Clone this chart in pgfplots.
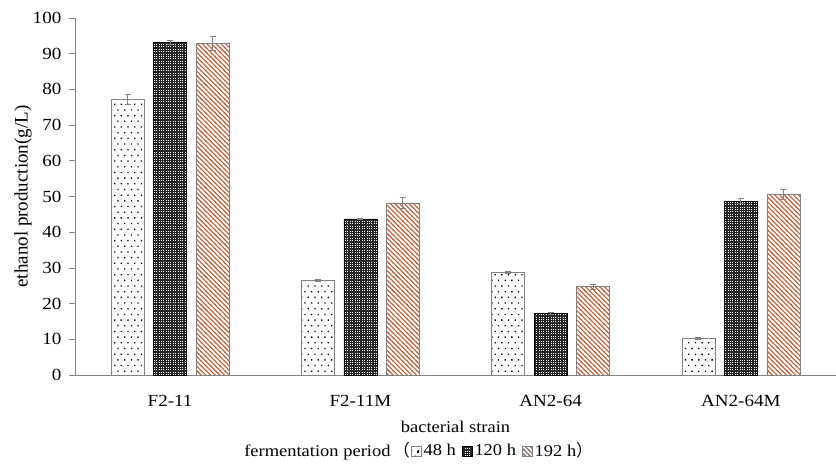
\documentclass[border=0pt]{standalone}
\usepackage{fontspec}
\setmainfont{Liberation Serif}[FakeStretch=1.12]
\newfontfamily\ylfont{Liberation Serif}
\newfontfamily\cjk{Noto Sans CJK SC}
\usepackage{pgfplots}
\pgfplotsset{compat=1.18}
\usetikzlibrary{patterns}
\definecolor{hatchc}{RGB}{190,95,55}
\definecolor{axgray}{RGB}{130,130,130}
\pgfdeclarepatternformonly{sparsedots}{\pgfqpoint{-1pt}{-1pt}}{\pgfqpoint{7.7pt}{12.4pt}}{\pgfqpoint{6.7pt}{11.4pt}}{%
  \pgfpathrectangle{\pgfqpoint{0.6pt}{0.6pt}}{\pgfqpoint{1.3pt}{1.3pt}}%
  \pgfpathrectangle{\pgfqpoint{3.95pt}{6.3pt}}{\pgfqpoint{1.3pt}{1.3pt}}%
  \pgfusepath{fill}}
\pgfdeclarepatternformonly{whitegrid}{\pgfqpoint{-0.5pt}{-0.5pt}}{\pgfqpoint{2.8pt}{2.8pt}}{\pgfqpoint{2.4pt}{2.4pt}}{%
  \pgfpathrectangle{\pgfqpoint{0.7pt}{0.7pt}}{\pgfqpoint{1.0pt}{1.0pt}}%
  \pgfusepath{fill}}
\pgfdeclarepatternformonly{nwhatch}{\pgfqpoint{-1pt}{-1pt}}{\pgfqpoint{5.7pt}{5.7pt}}{\pgfqpoint{4.7pt}{4.7pt}}{%
  \pgfsetlinewidth{1.1pt}%
  \pgfpathmoveto{\pgfqpoint{-0.5pt}{5.2pt}}%
  \pgfpathlineto{\pgfqpoint{5.2pt}{-0.5pt}}%
  \pgfusepath{stroke}}
\begin{document}
\fontsize{16.5bp}{19bp}\selectfont
\begin{tikzpicture}
\begin{axis}[
  name=ax,
  scale only axis,
  width=761bp, height=357bp,
  xmin=-0.5, xmax=3.5,
  ymin=0, ymax=100,
  ytick={0,10,...,100},
  xtick={0,1,2,3},
  xticklabels={F2-11,F2-11M,AN2-64,AN2-64M},
  axis x line*=bottom,
  axis y line*=left,
  axis line style={axgray, line width=0.8pt},
  x axis line style={-},
  y axis line style={-},
  ytick style={axgray, line width=0.8pt},
  xtick style={draw=none},
  tick align=outside,
  major tick length=6bp,
  every tick label/.append style={font=\fontsize{17bp}{19bp}\selectfont},
  /pgf/number format/assume math mode=true,
  yticklabel style={xshift=-2bp},
  xticklabel style={yshift=-9bp},
  ylabel={\ylfont\fontsize{19bp}{22bp}\selectfont ethanol production(g/L)},
  ylabel style={at={(axis description cs:-0.072,0.5)}, anchor=center, yshift=-3bp},
  xlabel={bacterial strain},
  xlabel style={font=\fontsize{16.5bp}{19bp}\selectfont, yshift=-3bp},
  ybar=9.5bp,
  bar width=33bp,
  clip=false,
  legend columns=-1,
  legend style={draw=none, fill=none, at={(rel axis cs:0.5,0)}, anchor=center, xshift=-37bp, yshift=-76bp,
    font=\fontsize{16.5bp}{19bp}\selectfont, inner sep=0pt,
    /tikz/every even column/.append style={column sep=0pt}},
  legend cell align=left,
  error bars/y dir=both,
  error bars/y explicit,
  error bars/error bar style={axgray, line width=0.8pt},
  error bars/error mark options={rotate=90, mark size=3bp, axgray, line width=0.8pt},
]
\addlegendimage{empty legend}
\addlegendentry{fermentation period\kern3bp{\cjk （}\kern-1bp}
\addplot[draw=axgray, line width=0.7pt, fill=white, postaction={pattern=sparsedots, pattern color=black},
  legend image code/.code={\draw[axgray, line width=0.6pt, fill=white] (0bp,-5bp) rectangle (10bp,5bp); \fill[black] (6bp,-1.5bp) rectangle (7.3bp,-0.2bp);}]
  coordinates {(0,77.2) +- (0,1.5) (1,26.5) +- (0,0.3) (2,28.7) +- (0,0.3) (3,10.3) +- (0,0.2)};
\addlegendentry{48 h\kern4bp}
\addplot[draw=black, line width=0.7pt, fill=black!85, postaction={pattern=whitegrid, pattern color=white},
  legend image code/.code={\draw[black, line width=0.6pt, fill=black!85, postaction={pattern=whitegrid, pattern color=white}] (0bp,-5bp) rectangle (10bp,5bp);}]
  coordinates {(0,93.2) +- (0,0.5) (1,43.7) +- (0,0.2) (2,17.2) +- (0,0.2) (3,48.7) +- (0,0.7)};
\addlegendentry{120 h\kern4bp}
\addplot[draw=axgray, line width=0.7pt, fill=white, postaction={pattern=nwhatch, pattern color=hatchc},
  legend image code/.code={\draw[axgray, line width=0.6pt, fill=white, postaction={pattern=nwhatch, pattern color=axgray}] (0bp,-5bp) rectangle (10bp,5bp);}]
  coordinates {(0,92.8) +- (0,2.0) (1,48.2) +- (0,1.5) (2,24.7) +- (0,0.6) (3,50.6) +- (0,1.3)};
\addlegendentry{192 h{\cjk ）}}
\end{axis}
\pgfresetboundingbox
\path[use as bounding box] ([xshift=-75bp,yshift=-94bp]ax.south west) rectangle ([yshift=18bp]ax.north east);
\end{tikzpicture}
\end{document}
